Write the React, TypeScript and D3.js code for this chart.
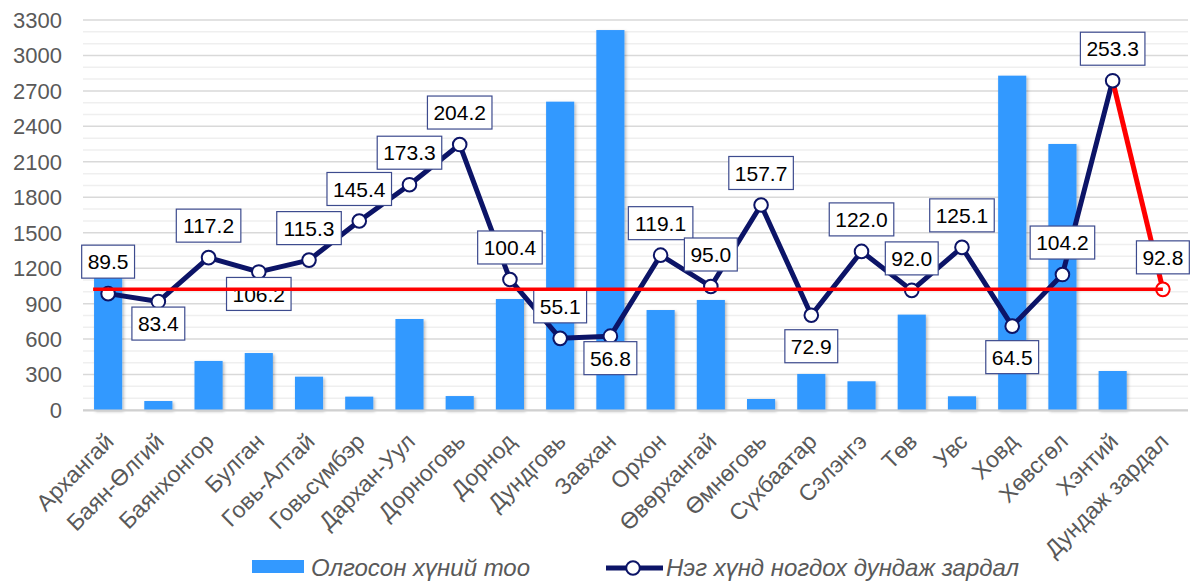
import React from "react";
import * as d3 from "d3";

const categories = [
  "Архангай", "Баян-Өлгий", "Баянхонгор", "Булган", "Говь-Алтай", "Говьсүмбэр",
  "Дархан-Уул", "Дорноговь", "Дорнод", "Дундговь", "Завхан", "Орхон",
  "Өвөрхангай", "Өмнөговь", "Сүхбаатар", "Сэлэнгэ", "Төв", "Увс",
  "Ховд", "Хөвсгөл", "Хэнтий", "Дундаж зардал",
];

// Олгосон хүний тоо (left axis)
const peopleCount = [
  1120, 76, 415, 482, 282, 113, 770, 118, 939, 2609, 3215, 846,
  931, 93, 305, 243, 807, 116, 2829, 2251, 330, null,
];

// Нэг хүнд ногдох дундаж зардал (hidden secondary axis 0–300)
const avgCost = [
  89.5, 83.4, 117.2, 106.2, 115.3, 145.4, 173.3, 204.2, 100.4, 55.1, 56.8, 119.1,
  95.0, 157.7, 72.9, 122.0, 92.0, 125.1, 64.5, 104.2, 253.3, 92.8,
];

// label placement: a = above, b = below (near), B = below (far)
const labelPlacement = [
  "a", "b", "a", "b", "a", "a", "a", "a", "a", "a", "b", "a",
  "a", "a", "B", "a", "a", "a", "B", "a", "a", "a",
];

const overallAverage = 92.8;
const yTicks = [0, 300, 600, 900, 1200, 1500, 1800, 2100, 2400, 2700, 3000, 3300];
const seriesNames = ["Олгосон хүний тоо", "Нэг хүнд ногдох дундаж зардал"];

const W = 1195;
const H = 581;
const FONT = "'Liberation Sans', Arial, sans-serif";
const NAVY = "#0c1467";
const BLUE = "#3399ff";
const RED = "#ff0000";

export default function App() {
  const x = d3
    .scaleBand<string>()
    .domain(categories)
    .range([83, 1188])
    .paddingInner(0.44)
    .paddingOuter(0.22);
  const y = d3.scaleLinear().domain([0, 3300]).range([410, 20]);
  const y2 = d3.scaleLinear().domain([0, 300]).range([410, 20]);
  const cx = (c: string) => (x(c) as number) + x.bandwidth() / 2;

  const minorTicks = d3.range(0, 3301, 100).filter((v) => v % 300 !== 0);

  const pts = categories.map((c, i) => [cx(c), y2(avgCost[i])] as [number, number]);
  const line = d3.line<[number, number]>();
  const navyPath = line(pts.slice(0, pts.length - 1)) || "";
  const redPath = line(pts.slice(pts.length - 2)) || "";

  const labelFont = 21;
  const textW = (s: string) =>
    s.split("").reduce((a, ch) => a + (ch === "." ? 0.278 : 0.556), 0) * labelFont;

  const offsets: Record<string, number> = { a: -32, b: 22, B: 31 };

  return (
    <svg
      width={W}
      height={H}
      style={{ position: "absolute", left: 0, top: 0, background: "#fff" }}
      fontFamily={FONT}
    >
      <defs>
        <filter id="sh" x="-30%" y="-10%" width="160%" height="130%">
          <feDropShadow dx="1.5" dy="1.5" stdDeviation="1.5" floodColor="#000" floodOpacity="0.28" />
        </filter>
      </defs>

      {/* minor grid */}
      {minorTicks.map((v) => (
        <line key={"m" + v} x1={83} x2={1188} y1={y(v)} y2={y(v)} stroke="#efefef" strokeWidth={1.5} />
      ))}
      {/* major grid */}
      {yTicks.map((v) => (
        <line key={"g" + v} x1={83} x2={1188} y1={y(v)} y2={y(v)} stroke="#d9d9d9" strokeWidth={1.5} />
      ))}

      {/* y tick labels */}
      {yTicks.map((v) => (
        <text key={"t" + v} x={62} y={y(v)} dy="0.36em" textAnchor="end" fontSize={22} fill="#595959">
          {v}
        </text>
      ))}

      {/* bars */}
      <g filter="url(#sh)">
        {categories.map((c, i) =>
          peopleCount[i] == null ? null : (
            <rect
              key={"b" + c}
              x={x(c)}
              y={y(peopleCount[i] as number)}
              width={x.bandwidth()}
              height={y(0) - y(peopleCount[i] as number)}
              fill={BLUE}
            />
          )
        )}
      </g>

      {/* x axis line */}
      <line x1={83} x2={1188} y1={410.5} y2={410.5} stroke="#d0d0d0" strokeWidth={2} />

      {/* x labels */}
      {categories.map((c) => (
        <text
          key={"x" + c}
          transform={`translate(${cx(c) + 7},${443}) rotate(-45)`}
          textAnchor="end"
          fontSize={23}
          fill="#595959"
        >
          {c}
        </text>
      ))}

      {/* cost line */}
      <path d={navyPath} fill="none" stroke={NAVY} strokeWidth={5} strokeLinejoin="round" />
      <path d={redPath} fill="none" stroke={RED} strokeWidth={5} strokeLinejoin="round" />

      {/* markers */}
      {pts.map((p, i) => (
        <circle
          key={"c" + i}
          cx={p[0]}
          cy={p[1]}
          r={6.8}
          fill="#fff"
          stroke={i === pts.length - 1 ? RED : NAVY}
          strokeWidth={2}
        />
      ))}

      {/* data labels */}
      {pts.map((p, i) => {
        const s = avgCost[i].toFixed(1);
        const w = textW(s) + 12;
        const h = 33;
        const cy = p[1] + offsets[labelPlacement[i]];
        return (
          <g key={"l" + i}>
            <rect x={p[0] - w / 2} y={cy - h / 2} width={w} height={h} fill="#fff" stroke="#3d4b8e" strokeWidth={1.2} />
            <text x={p[0]} y={cy} dy="0.36em" textAnchor="middle" fontSize={labelFont} fill="#000">
              {s}
            </text>
          </g>
        );
      })}

      {/* overall average line */}
      <line
        x1={cx(categories[0]) - 15}
        x2={cx(categories[categories.length - 1])}
        y1={y2(overallAverage)}
        y2={y2(overallAverage)}
        stroke={RED}
        strokeWidth={3.5}
      />

      {/* legend */}
      <rect x={252} y={560} width={52} height={13} fill={BLUE} />
      <text x={311} y={567} dy="0.36em" fontSize={24} fontStyle="italic" fill="#595959">
        {seriesNames[0]}
      </text>
      <line x1={606} x2={663} y1={568} y2={568} stroke={NAVY} strokeWidth={5} />
      <circle cx={633} cy={568} r={6.8} fill="#fff" stroke={NAVY} strokeWidth={2} />
      <text x={666} y={567} dy="0.36em" fontSize={24} fontStyle="italic" fill="#595959">
        {seriesNames[1]}
      </text>
    </svg>
  );
}
